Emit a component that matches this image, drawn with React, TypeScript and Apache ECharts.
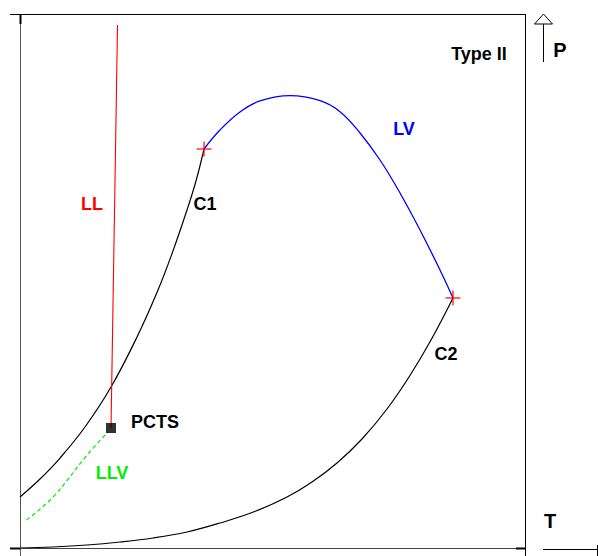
import React, { useEffect, useRef } from "react";
import * as echarts from "echarts";

// Vapor pressure curve of component 1 (ends at C1)
const vp1T = [0, 3.96, 7.92, 12.87, 18.02, 23.17, 27.33, 30.1, 33.07, 34.85, 36.44];
const vp1P = [9.55, 12.92, 16.85, 22.66, 30.15, 39.51, 48.31, 55.13, 63.3, 68.73, 74.72];
// Vapor pressure curve of component 2 (ends at C2)
const vp2T = [0, 6.53, 13.27, 19.8, 26.34, 33.07, 39.6, 46.34, 52.87, 57.82, 62.77, 67.72, 72.67, 77.03, 81.39, 85.74];
const vp2P = [0, 0.19, 0.56, 1.12, 1.87, 3.0, 4.68, 6.78, 9.55, 12.36, 15.92, 20.41, 26.03, 32.02, 38.95, 46.82];
// Critical curve LV (C1 -> C2)
const lvT = [36.44, 39.6, 43.56, 47.52, 53.47, 59.41, 63.37, 67.33, 71.29, 75.25, 79.21, 83.17, 85.74];
const lvP = [74.72, 78.28, 81.65, 83.71, 84.7, 83.76, 81.7, 77.72, 72.66, 66.48, 59.55, 52.06, 46.82];
// LL critical line (top -> PCTS)
const llT = [19.31, 18.02];
const llP = [97.94, 22.47];
// LLV three-phase line
const llvT = [1.3, 6.6, 13.27, 17.5];
const llvP = [5.24, 9.6, 17.4, 21.8];
// Critical points C1, C2 and PCTS
const critT = [36.44, 85.74];
const critP = [74.72, 46.82];
const pctsT = [18.02];
const pctsP = [22.47];

const zip = (a: number[], b: number[]) => a.map((v, i) => [v, b[i]]);

const FONT = "Liberation Sans, Arial, sans-serif";

export default function App() {
  const ref = useRef<HTMLDivElement>(null);
  useEffect(() => {
    if (!ref.current) return;
    const chart = echarts.init(ref.current, null, { renderer: "svg" });
    const txt = (x: number, y: number, text: string, fill: string, size: number) => ({
      type: "text",
      x,
      y,
      style: {
        text,
        fill,
        font: `bold ${size}px ${FONT}`,
        align: "center",
        verticalAlign: "middle",
      },
    });
    const ln = (x1: number, y1: number, x2: number, y2: number, w = 1, c = "#000") => ({
      type: "line",
      shape: { x1, y1, x2, y2 },
      style: { stroke: c, lineWidth: w },
      silent: true,
    });
    chart.setOption({
      animation: false,
      grid: { left: 20, right: 73, top: 14, bottom: 8, show: false },
      xAxis: { type: "value", min: 0, max: 100, show: false },
      yAxis: { type: "value", min: 0, max: 100, show: false },
      series: [
        {
          type: "line",
          data: zip(vp1T, vp1P),
          smooth: 0.4,
          showSymbol: false,
          lineStyle: { color: "#000", width: 1.2 },
        },
        {
          type: "line",
          data: zip(vp2T, vp2P),
          smooth: 0.4,
          showSymbol: false,
          lineStyle: { color: "#000", width: 1.2 },
        },
        {
          type: "line",
          data: zip(lvT, lvP),
          smooth: 0.4,
          showSymbol: false,
          lineStyle: { color: "#0000ff", width: 1.3 },
        },
        {
          type: "line",
          data: zip(llT, llP),
          showSymbol: false,
          lineStyle: { color: "#ff0000", width: 1.1 },
        },
        {
          type: "line",
          data: zip(llvT, llvP),
          smooth: 0.4,
          showSymbol: false,
          lineStyle: { color: "#00ee00", width: 1.2, type: [4, 3] },
        },
        {
          type: "scatter",
          data: zip(critT, critP),
          symbol: "rect",
          symbolSize: [15, 1.5],
          itemStyle: { color: "#ff0000" },
          z: 5,
        },
        {
          type: "scatter",
          data: zip(critT, critP),
          symbol: "rect",
          symbolSize: [1.5, 15],
          itemStyle: { color: "#ff0000" },
          z: 5,
        },
        {
          type: "scatter",
          data: zip(pctsT, pctsP),
          symbol: "rect",
          symbolSize: 10,
          itemStyle: { color: "#000" },
          z: 5,
        },
      ],
      graphic: [
        // frame
        ln(10, 14.5, 525, 14.5),
        ln(20.5, 14, 20.5, 556, 1, "#555"),
        ln(10, 548.5, 525, 548.5, 1, "#444"),
        ln(525.5, 14, 525.5, 556),
        ln(20.5, 14, 20.5, 24, 2),
        ln(10, 548.5, 20, 548.5, 2),
        ln(516, 548.5, 525, 548.5, 2),
        // P arrow
        ln(543.5, 24, 543.5, 62),
        {
          type: "polygon",
          shape: { points: [[534.5, 24], [543.5, 14], [552.5, 24]] },
          style: { fill: "#fff", stroke: "#000", lineWidth: 1 },
        },
        // T arrow
        ln(543, 549.5, 598, 549.5),
        ln(597.5, 545, 597.5, 556),
        // labels
        txt(479, 54, "Type II", "#000", 18),
        txt(560, 50, "P", "#000", 20),
        txt(550, 521, "T", "#000", 20),
        txt(404, 129, "LV", "#0000ff", 18),
        txt(92, 204, "LL", "#ff0000", 18),
        txt(205, 204, "C1", "#000", 18),
        txt(446, 354, "C2", "#000", 18),
        txt(155, 422, "PCTS", "#000", 18),
        txt(112, 473, "LLV", "#00ee00", 18),
      ],
    });
    return () => chart.dispose();
  }, []);
  return <div ref={ref} style={{ width: 598, height: 556, position: "absolute", left: 0, top: 0 }} />;
}
